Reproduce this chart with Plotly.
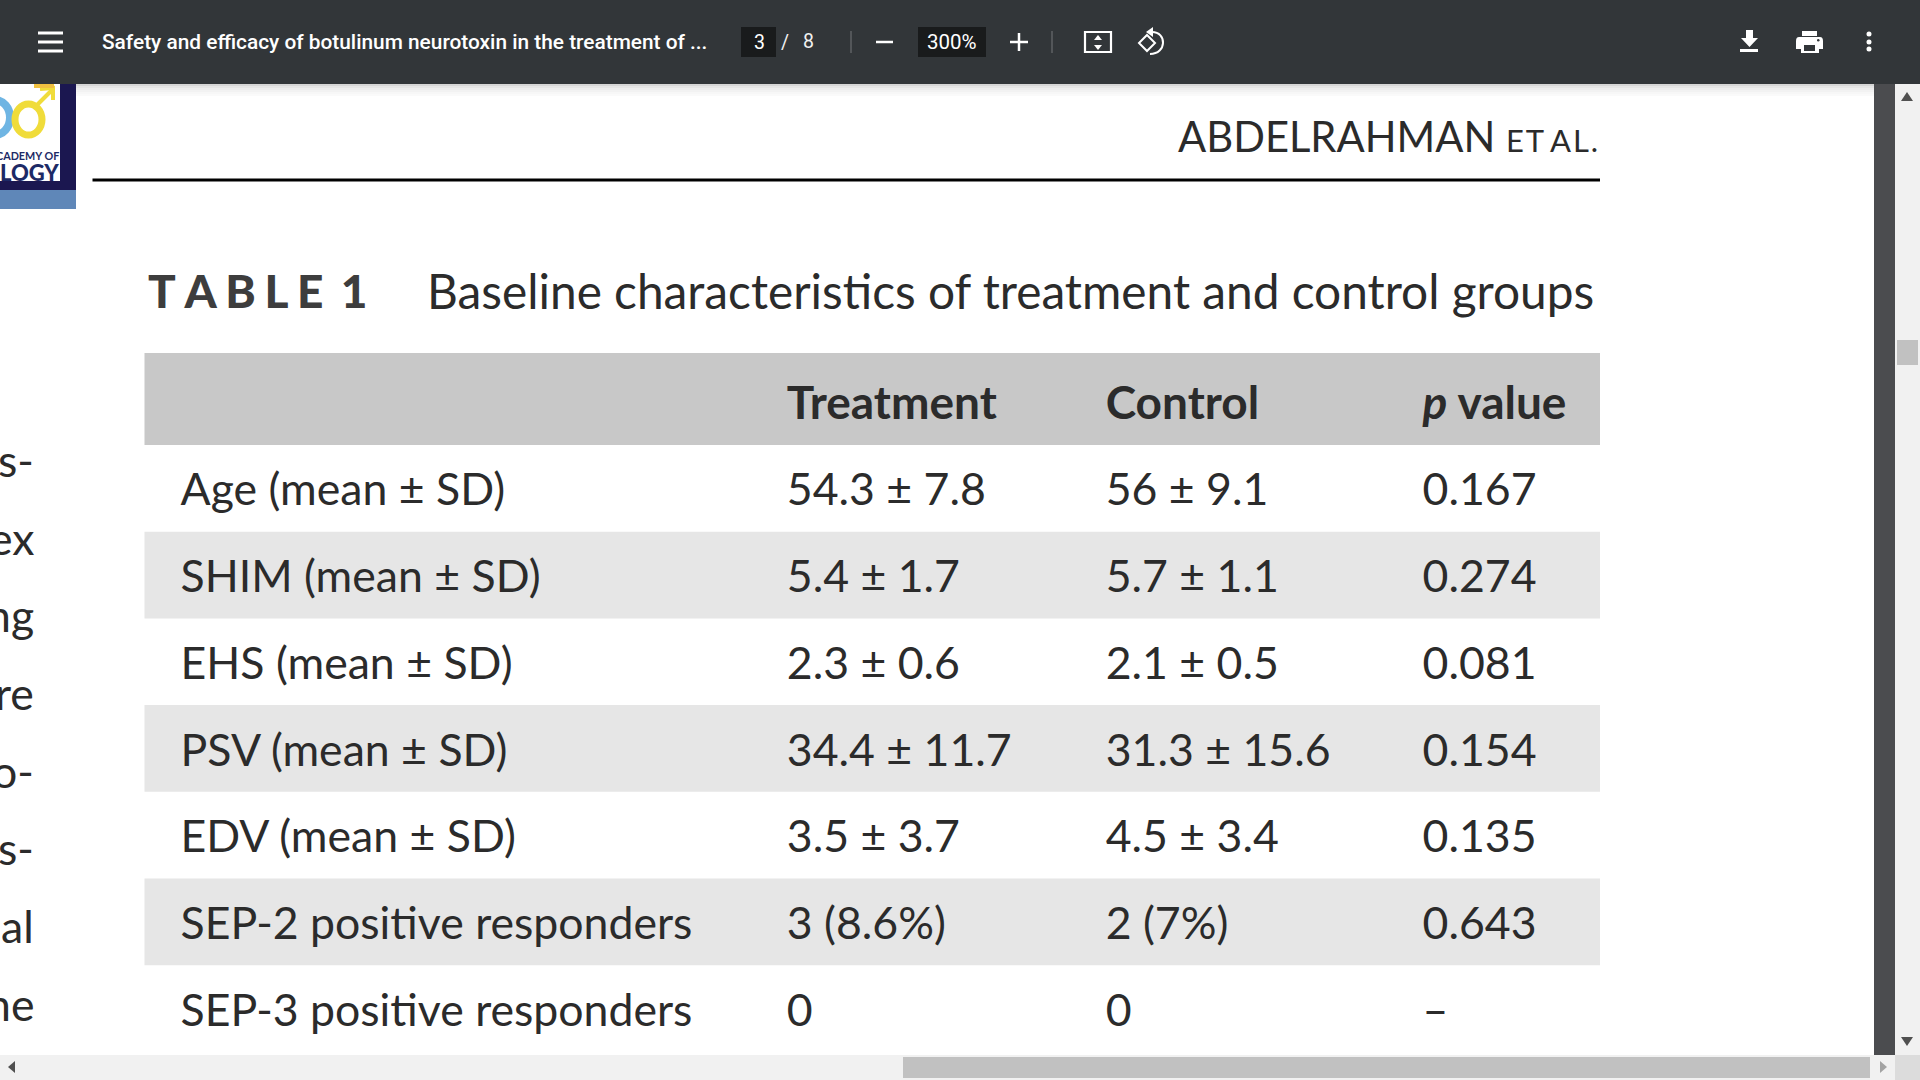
import plotly.graph_objects as go

# Table contents
row_labels = [
    "Age (mean ± SD)",
    "SHIM (mean ± SD)",
    "EHS (mean ± SD)",
    "PSV (mean ± SD)",
    "EDV (mean ± SD)",
    "SEP-2 positive responders",
    "SEP-3 positive responders",
]
treatment = ["54.3 ± 7.8", "5.4 ± 1.7", "2.3 ± 0.6", "34.4 ± 11.7", "3.5 ± 3.7", "3 (8.6%)", "0"]
control = ["56 ± 9.1", "5.7 ± 1.1", "2.1 ± 0.5", "31.3 ± 15.6", "4.5 ± 3.4", "2 (7%)", "0"]
p_values = ["0.167", "0.274", "0.081", "0.154", "0.135", "0.643", "–"]
headers = ["", "", "<b>Treatment</b>", "<b>Control</b>", "<b><i>p</i> value</b>"]

# Text cut off by the left edge of the viewer
cut_text = ["s-", "ex", "ng", "re", "o-", "s-", "al", "ne"]
cut_y = [459, 537, 614, 692, 770, 847, 925, 1003]

TOOLBAR = "#323639"
INK = "#2b2b2b"
CLEAR = "rgba(0,0,0,0)"
row_fill = [CLEAR, "#e6e6e6"] * 3 + [CLEAR]

fig = go.Figure()

# Empty trace so the pixel axes exist for the viewer chrome
fig.add_trace(go.Scatter(x=[0, 1920], y=[0, 1080], mode="none", hoverinfo="skip"))

# Table text sits high in its cells, so the table is moved down and the bands are shapes behind it
fig.add_trace(go.Table(
    domain=dict(x=[144.5 / 1920, 1600 / 1920], y=[1 - 1078 / 1080, 1 - 365.5 / 1080]),
    columnwidth=[28, 606.5, 319, 317, 185],
    header=dict(
        values=headers,
        height=98.5,
        fill_color=CLEAR,
        line_width=0,
        align="left",
        font=dict(family="Lato", size=46, color=INK),
    ),
    cells=dict(
        values=[[""] * 7, row_labels, treatment, control, p_values],
        height=86.7,
        fill_color=CLEAR,
        line_width=0,
        align="left",
        font=dict(family="Lato", size=44.6, color=INK),
    ),
))


def rect(x0, y0, x1, y1, color, opacity=1, layer="above"):
    fig.add_shape(type="rect", x0=x0, y0=y0, x1=x1, y1=y1, fillcolor=color,
                  line_width=0, opacity=opacity, layer=layer)


def line(x0, y0, x1, y1, color, width):
    fig.add_shape(type="line", x0=x0, y0=y0, x1=x1, y1=y1, line=dict(color=color, width=width))


def path(d, fill=CLEAR, color=CLEAR, width=0):
    fig.add_shape(type="path", path=d, fillcolor=fill, line=dict(color=color, width=width))


def label(x, y, text, size, color=INK, family="Lato", anchor="left", weight=None):
    fig.add_annotation(x=x, y=y, text=text, showarrow=False, xanchor=anchor, yanchor="middle",
                       font=dict(family=family, size=size, color=color, weight=weight))


# Table bands
rect(144.5, 353, 1600, 445, "#c8c8c8", layer="below")
for i, fill in enumerate(row_fill):
    rect(144.5, 445 + i * 86.7, 1600, 445 + (i + 1) * 86.7, fill, layer="below")

# Toolbar
rect(0, 0, 1920, 84, TOOLBAR)
for i, op in enumerate([0.16, 0.1, 0.07, 0.05, 0.03, 0.02]):
    rect(0, 84 + i * 2, 1875, 86 + i * 2, "#000000", op)
for y in [33, 42, 51]:
    line(38, y, 63, y, "#ffffff", 3)
label(100, 42, "Safety and efficacy of botulinum neurotoxin in the treatment of ...", 20.85,
      "#ffffff", "Roboto", weight=500)
rect(741, 27, 776, 57, "#191b1c")
label(759, 42, "3", 19.5, "#ffffff", "Roboto", "center")
label(785, 42, "/", 19.5, "#f1f1f1", "Roboto", "center")
label(808, 41, "8", 19.5, "#f1f1f1", "Roboto", "center")
line(851, 31, 851, 53, "#5f6265", 1.5)
line(876, 42, 893, 42, "#ffffff", 2.5)
rect(918, 27, 986, 57, "#191b1c")
label(952, 42, "300%", 20.5, "#ffffff", "Roboto", "center")
line(1010, 42, 1028, 42, "#ffffff", 2.5)
line(1019, 33, 1019, 51, "#ffffff", 2.5)
line(1052, 31, 1052, 53, "#5f6265", 1.5)
fig.add_shape(type="rect", x0=1085, y0=32, x1=1111, y1=52, line=dict(color="#ffffff", width=2.2))
path("M1098,35 L1094,40 L1102,40 Z", "#ffffff")
path("M1098,50 L1094,45 L1102,45 Z", "#ffffff")
path("M1147,35 L1155,43 L1147,51 L1139,43 Z", color="#ffffff", width=2)
path("M1152,32 C1167,32 1167,54 1150,54", color="#ffffff", width=2)
path("M1153,27 L1153,37 L1146,32 Z", "#ffffff")
path("M1746,30 L1753,30 L1753,38 L1758,38 L1749.5,47 L1741,38 L1746,38 Z", "#ffffff")
rect(1740, 49, 1758, 52, "#ffffff")
rect(1802, 31, 1817, 36, "#ffffff")
path("M1799,37 L1820,37 Q1823,37 1823,41 L1823,49 L1796,49 L1796,41 Q1796,37 1799,37 Z", "#ffffff")
rect(1801, 45, 1819, 53, "#ffffff")
rect(1804, 45, 1815, 51, TOOLBAR)
fig.add_shape(type="circle", x0=1817, y0=39, x1=1819.5, y1=41.5, fillcolor=TOOLBAR, line_width=0)
for y in [34, 42, 49]:
    fig.add_shape(type="circle", x0=1866.5, y0=y - 2.5, x1=1871.5, y1=y + 2.5,
                  fillcolor="#ffffff", line_width=0)

# Journal logo at the left edge of the page
rect(0, 84, 76, 190, "#1b1750")
rect(0, 190, 76, 209, "#5f87b8")
rect(0, 84, 60, 181, "#ffffff")
fig.add_shape(type="circle", x0=-20, y0=100, x1=10, y1=135, line=dict(color="#6fb5e3", width=8))
fig.add_shape(type="circle", x0=15, y0=104, x1=42, y1=135, line=dict(color="#f0dc3a", width=7))
line(36, 106, 52, 90, "#f0dc3a", 4)
path("M40,89 L53,88 L53,100", color="#f0dc3a", width=4)
rect(34, 84, 54, 88, "#f0c040")
label(60.5, 155, "CADEMY OF", 10.8, "#1d2a66", "Lato", "right", 700)
label(60.5, 172, "LOGY", 22, "#1d2a66", "Lato", "right", 900)

# Running head and rule
label(1600, 136, "ABDELRAHMAN <span style='font-size:31px'>E\u200aT A\u200aL\u200a.</span>", 41.7,
      "#2b2b2b", "Lato", "right")
line(92.5, 180, 1600, 180, "#000000", 3)

# Table caption
label(146, 290, "T\u2009\u200aA\u2009\u200aB\u2009\u200aL\u2009\u200aE\u2009\u2009\u20091", 46,
      "#3d3d3d", "Lato", weight=900)
label(425, 290.5, "Baseline characteristics of treatment and control groups", 47.8, "#2b2b2b")

for txt, y in zip(cut_text, cut_y):
    label(35.5, y, txt, 44.6, "#2b2b2b", "Lato", "right")

# Scrollbars
rect(1874, 84, 1895, 1055, "#4b4c4f")
rect(1895, 84, 1920, 1055, "#f1f1f1")
rect(1897, 340, 1918, 365, "#c1c1c1")
path("M1907,92 L1901,101 L1913,101 Z", "#505050")
path("M1907,1046 L1901,1037 L1913,1037 Z", "#505050")
rect(0, 1055, 1920, 1080, "#f1f1f1")
rect(903, 1057, 1870, 1078, "#c1c1c1")
rect(1895, 1055, 1920, 1080, "#dcdcdc")
path("M8,1067 L15,1061 L15,1073 Z", "#505050")
path("M1887,1067 L1880,1061 L1880,1073 Z", "#a3a3a3")

fig.update_layout(
    width=1920,
    height=1080,
    margin=dict(l=0, r=0, t=0, b=0),
    paper_bgcolor="#ffffff",
    plot_bgcolor=CLEAR,
    showlegend=False,
    xaxis=dict(range=[0, 1920], visible=False, fixedrange=True),
    yaxis=dict(range=[1080, 0], visible=False, fixedrange=True),
)

fig.write_html(
    "out.html",
    config={"displayModeBar": False},
    post_script="document.body.style.margin='0';document.body.style.overflow='hidden';",
)
